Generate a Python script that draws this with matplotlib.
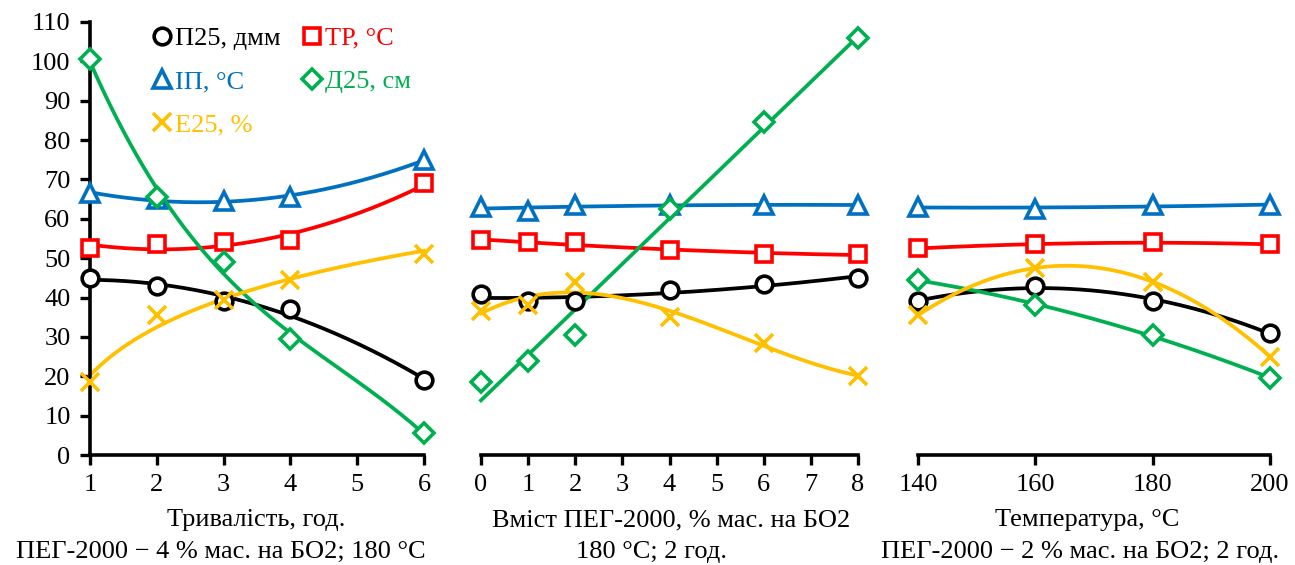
import numpy as np
import matplotlib.pyplot as plt

plt.rcParams['font.family'] = ['Liberation Serif', 'DejaVu Serif']
plt.rcParams['font.size'] = 19

# panel 1: duration, h
dur = [1, 2, 3, 4, 6]
p25_dur = [45, 43, 39, 37, 19]
tr_dur = [52.6, 53.5, 54, 54.5, 69]
ip_dur = [66.5, 65, 64.5, 65.5, 75]
d25_dur = [100.5, 65.5, 49, 29.5, 5.5]
e25_dur = [18.5, 35.5, 39.5, 44.5, 51]

# panel 2: PEG-2000 content
peg = [0, 1, 2, 4, 6, 8]
p25_peg = [41, 39, 39, 42, 43.5, 45]
tr_peg = [54.5, 54, 54, 52, 51, 51]
ip_peg = [63, 62, 63.5, 63.5, 63.5, 63.5]
d25_peg = [18.5, 24, 30.5, 62.5, 84.5, 106]
e25_peg = [36.5, 38, 44, 35, 28.5, 20]

# panel 3: temperature
temp = [140, 160, 180, 200]
p25_temp = [39, 43, 39, 31]
tr_temp = [52.5, 53.5, 54, 53.5]
ip_temp = [63, 62.5, 63.5, 63.5]
d25_temp = [44.5, 38, 30.5, 19.5]
e25_temp = [35.5, 47.5, 44, 25]

names = ['П25, дмм', 'ТР, °С', 'ІП, °С', 'Д25, см', 'Е25, %']
colors = ['black', '#FF0000', '#0070C0', '#00B050', '#FFC000']
markers = ['o', 's', '^', 'D', 'x']
msizes = [12, 11.5, 12.5, 10, 12.5]

# trend type per series: int = polynomial degree, 'log' = logarithmic
panels = [
    (dur, [p25_dur, tr_dur, ip_dur, d25_dur, e25_dur], [2, 2, 2, 3, 'log'], (1, 6), [1, 2, 3, 4, 5, 6],
     'Тривалість, год.', 'ПЕГ-2000 − 4 % мас. на БО2; 180 °С'),
    (peg, [p25_peg, tr_peg, ip_peg, d25_peg, e25_peg], [2, 2, 2, 1, 3], (0, 8), list(range(9)),
     'Вміст ПЕГ-2000, % мас. на БО2', '180 °С; 2 год.'),
    (temp, [p25_temp, tr_temp, ip_temp, d25_temp, e25_temp], [2, 2, 2, 2, 2], (140, 200), [140, 160, 180, 200],
     'Температура, °С', 'ПЕГ-2000 − 2 % мас. на БО2; 2 год.'),
]

fig = plt.figure(figsize=(12.95, 5.65), dpi=100)
lefts = [90, 481, 918]
rights = [424, 858, 1270]
label_x = [256, 671, 1087]
note_x = [221, 651, 1080]
bottom = (565 - 455) / 565
top = (565 - 22) / 565

handles = []
for k, (xs, series, degs, xlim, xt, xl, note) in enumerate(panels):
    l = lefts[k] / 1295
    w = (rights[k] - lefts[k]) / 1295
    ax = fig.add_axes([l, bottom, w, top - bottom])
    xx = np.linspace(xs[0], xs[-1], 200)
    for i, ys in enumerate(series):
        if degs[i] == 'log':
            coef = np.polyfit(np.log(xs), ys, 1)
            yy = np.polyval(coef, np.log(xx))
        else:
            coef = np.polyfit(xs, ys, degs[i])
            yy = np.polyval(coef, xx)
        ax.plot(xx, yy, color=colors[i], lw=2.7, zorder=2, clip_on=False)
        fill = colors[i] if markers[i] == 'x' else 'white'
        h, = ax.plot(xs, ys, ls='none', marker=markers[i], ms=msizes[i], mfc=fill,
                     mec=colors[i], mew=2.6, zorder=3, label=names[i], clip_on=False)
        if k == 0:
            handles.append(h)
    ax.set_xlim(*xlim)
    ax.set_ylim(0, 110)
    ax.set_xticks(xt)
    ax.set_yticks(range(0, 111, 10))
    for s in ['top', 'right']:
        ax.spines[s].set_visible(False)
    ax.spines['bottom'].set_linewidth(2.6)
    ax.spines['left'].set_linewidth(2.6)
    ax.tick_params(width=2.4, length=7, direction='out', pad=7)
    if k > 0:
        ax.spines['left'].set_visible(False)
        ax.tick_params(axis='y', left=False, labelleft=False)
    fig.text(label_x[k] / 1295, (565 - 520) / 565, xl, ha='center', va='center', fontsize=19)
    fig.text(note_x[k] / 1295, (565 - 552) / 565, note, ha='center', va='center', fontsize=19)
    if k == 0:
        order = [0, 2, 4, 1, 3]
        hs = [handles[j] for j in order]
        leg = ax.legend(hs, [names[j] for j in order], ncol=2, frameon=False, loc='upper left',
                        bbox_to_anchor=(0.12, 1.045), handlelength=0.6, handletextpad=0.2,
                        columnspacing=0.9, labelspacing=0.75, fontsize=19)
        for t, j in zip(leg.get_texts(), order):
            t.set_color(colors[j])

fig.savefig('out.png', dpi=100)
